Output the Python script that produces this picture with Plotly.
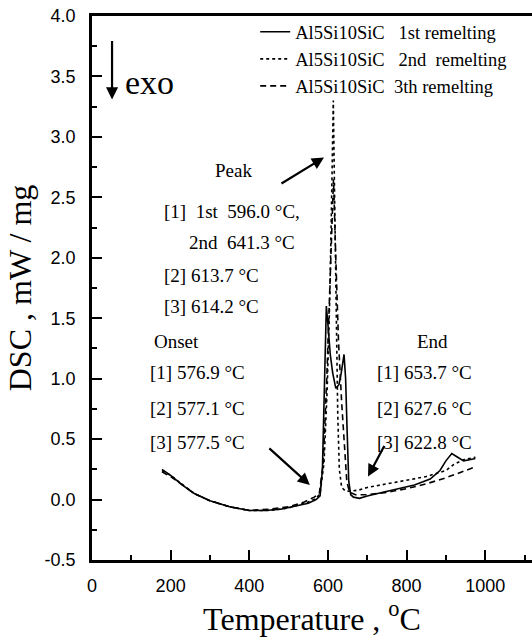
import plotly.graph_objects as go

# DSC traces of Al5Si10SiC over three successive remeltings
temp_1st = [178, 200, 230, 260, 300, 350, 400, 440, 480, 520, 550, 570, 580, 586, 591, 596,
            600, 606, 612, 620, 628, 634, 641, 645, 649, 653, 658, 665, 680, 700, 740, 780,
            820, 860, 885, 900, 915, 930, 945, 960, 975]
dsc_1st = [0.25, 0.20, 0.12, 0.05, -0.01, -0.06, -0.09, -0.09, -0.08, -0.05, -0.03, 0.00, 0.03,
           0.25, 0.90, 1.60, 1.45, 1.20, 1.05, 0.92, 0.95, 1.05, 1.20, 1.00, 0.55, 0.15, 0.04,
           0.02, 0.01, 0.03, 0.06, 0.09, 0.12, 0.17, 0.24, 0.32, 0.38, 0.35, 0.32, 0.33, 0.34]

temp_2nd = [178, 200, 260, 300, 350, 400, 450, 500, 550, 570, 580, 590, 598, 605, 610, 613.7,
            617, 621, 625, 629, 635, 645, 660, 680, 700, 750, 800, 850, 900, 920, 945, 975]
dsc_2nd = [0.24, 0.20, 0.05, -0.01, -0.06, -0.09, -0.09, -0.07, -0.02, 0.01, 0.05, 0.30, 0.90,
           1.70, 2.60, 3.30, 2.50, 1.50, 0.70, 0.25, 0.10, 0.07, 0.07, 0.08, 0.10, 0.13, 0.16,
           0.19, 0.24, 0.29, 0.33, 0.35]

temp_3rd = [178, 200, 260, 300, 350, 400, 450, 500, 540, 565, 578, 588, 597, 605, 614.2, 620,
            627, 635, 642, 648, 655, 670, 700, 750, 800, 850, 900, 940, 975]
dsc_3rd = [0.23, 0.19, 0.05, -0.01, -0.06, -0.09, -0.08, -0.06, -0.02, 0.02, 0.05, 0.30, 1.00,
           1.80, 2.65, 2.00, 1.30, 0.80, 0.45, 0.15, 0.06, 0.04, 0.04, 0.06, 0.09, 0.13, 0.18,
           0.23, 0.27]

series_names = ["Al5Si10SiC\u00a0\u00a0 1st remelting",
                "Al5Si10SiC\u00a0\u00a0 2nd\u00a0 remelting",
                "Al5Si10SiC\u00a0 3th remelting"]

x_ticks = [0, 200, 400, 600, 800, 1000]
y_ticks = [-0.5, 0.0, 0.5, 1.0, 1.5, 2.0, 2.5, 3.0, 3.5, 4.0]
y_tick_text = ["-0.5", "0.0", "0.5", "1.0", "1.5", "2.0", "2.5", "3.0", "3.5", "4.0"]

peak_lines = ["Peak", "[1]\u00a0 1st\u00a0 596.0 \u00b0C,", "2nd\u00a0 641.3 \u00b0C",
              "[2] 613.7 \u00b0C", "[3] 614.2 \u00b0C"]
onset_lines = ["Onset", "[1] 576.9 \u00b0C", "[2] 577.1 \u00b0C", "[3] 577.5 \u00b0C"]
end_lines = ["End", "[1] 653.7 \u00b0C", "[2] 627.6 \u00b0C", "[3] 622.8 \u00b0C"]

SERIF = "Liberation Serif, Times New Roman, serif"
SANS = "Liberation Sans, Arial, sans-serif"

fig = go.Figure()
for t, d, name, dash in [(temp_1st, dsc_1st, series_names[0], "solid"),
                         (temp_2nd, dsc_2nd, series_names[1], "dot"),
                         (temp_3rd, dsc_3rd, series_names[2], "6px,4px")]:
    fig.add_trace(go.Scatter(x=t, y=d, mode="lines", name=name,
                             line=dict(color="black", width=1.6, dash=dash)))

ann = []
# peak annotation block
peak_pos = [(361, 2.72, "center"), (178, 2.38, "left"), (242, 2.13, "left"),
            (178, 1.85, "left"), (178, 1.60, "left")]
for (x, y, xa), txt in zip(peak_pos, peak_lines):
    ann.append(dict(x=x, y=y, text=txt, xanchor=xa))
onset_pos = [(153, 1.31), (142, 1.05), (142, 0.75), (142, 0.47)]
for (x, y), txt in zip(onset_pos, onset_lines):
    ann.append(dict(x=x, y=y, text=txt, xanchor="left"))
end_pos = [(821, 1.31), (720, 1.05), (720, 0.75), (720, 0.47)]
for (x, y), txt in zip(end_pos, end_lines):
    ann.append(dict(x=x, y=y, text=txt, xanchor="left"))
for a in ann:
    a.update(xref="x", yref="y", showarrow=False, yanchor="middle",
             font=dict(family=SERIF, size=19, color="black"))

# exo marker
ann.append(dict(x=80, y=3.45, xref="x", yref="y", text="exo", showarrow=False,
                xanchor="left", yanchor="middle",
                font=dict(family=SERIF, size=34, color="black")))
arrow_style = dict(xref="x", yref="y", text="", showarrow=True, arrowhead=2,
                   arrowsize=1.1, arrowwidth=2.2, arrowcolor="black")
ann.append(dict(x=51, y=3.31, ax=0, ay=-60, **arrow_style))
ann.append(dict(x=590, y=2.83, ax=-44, ay=27, **arrow_style))
ann.append(dict(x=554, y=0.12, ax=-42, ay=-38, **arrow_style))
ann.append(dict(x=702, y=0.19, ax=17, ay=-32, **arrow_style))

fig.update_layout(
    width=532, height=642,
    margin=dict(l=92, r=0, t=16, b=82),
    paper_bgcolor="white", plot_bgcolor="white",
    annotations=ann,
    showlegend=True,
    legend=dict(x=0.955, xanchor="right", y=1.005, yanchor="top",
                bgcolor="rgba(0,0,0,0)", tracegroupgap=0,
                font=dict(family=SERIF, size=18.5, color="black")),
    xaxis=dict(range=[0, 1119], tickvals=x_ticks,
               ticks="inside", ticklen=10, tickwidth=2, tickcolor="black",
               minor=dict(ticks="inside", ticklen=5, tickwidth=2, dtick=100, tickcolor="black"),
               showline=True, linewidth=2.5, linecolor="black", mirror=True,
               showgrid=False, zeroline=False, ticklabelstandoff=8,
               tickfont=dict(family=SANS, size=18, color="black"),
               title=dict(text="Temperature , <sup>o</sup>C", standoff=12,
                          font=dict(family=SERIF, size=32, color="black"))),
    yaxis=dict(range=[-0.5, 4.0], tickvals=y_ticks, ticktext=y_tick_text,
               ticks="inside", ticklen=10, tickwidth=2, tickcolor="black",
               minor=dict(ticks="inside", ticklen=5, tickwidth=2, dtick=0.25, tickcolor="black"),
               showline=True, linewidth=2.5, linecolor="black", mirror=False,
               showgrid=False, zeroline=False, ticklabelstandoff=10,
               tickfont=dict(family=SANS, size=18, color="black"),
               title=dict(text="DSC , mW / mg", standoff=4,
                          font=dict(family=SERIF, size=32, color="black"))),
)

fig.write_html("out.html")
